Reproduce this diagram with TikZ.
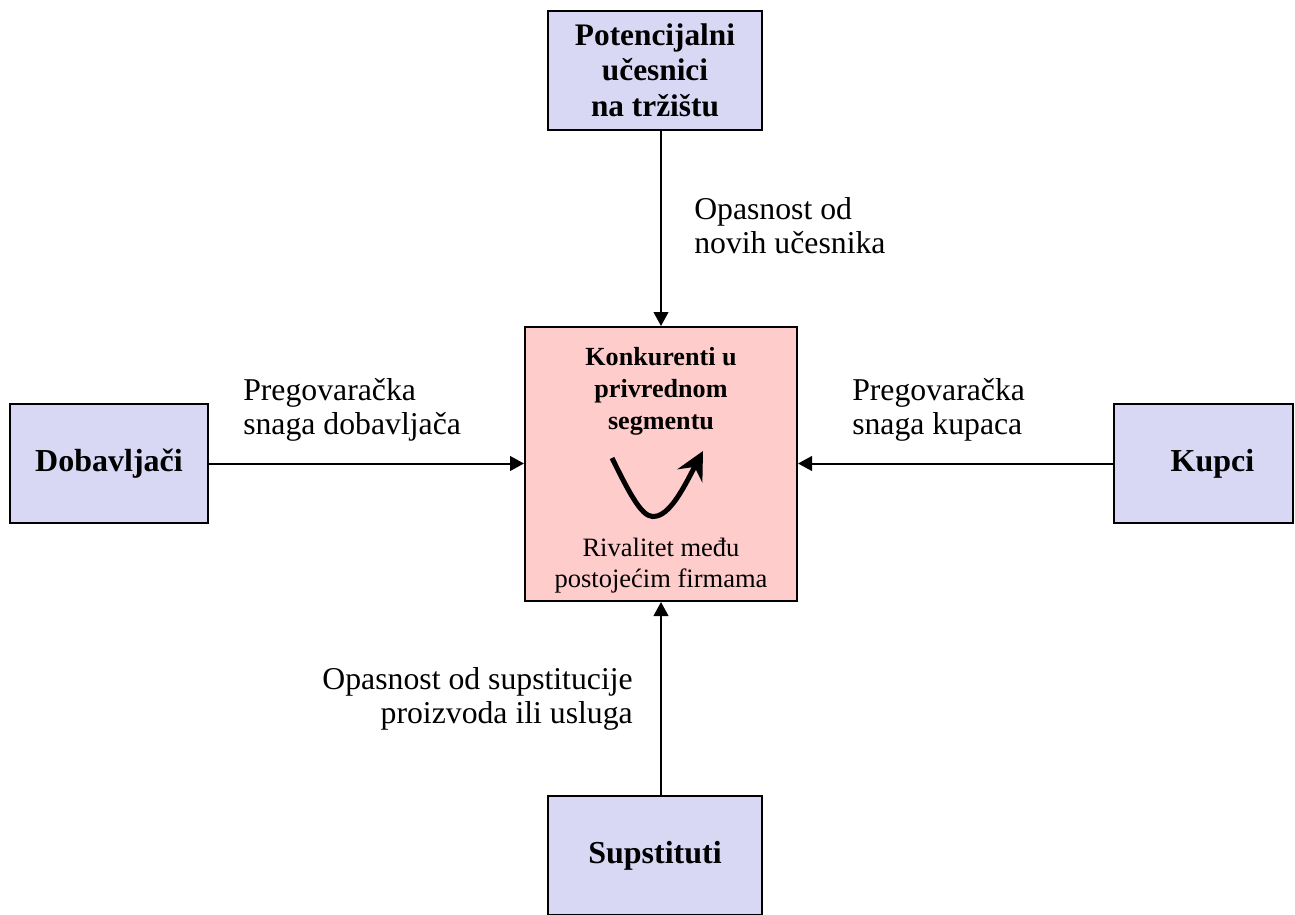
\documentclass[tikz,border=0pt]{standalone}
\usepackage{fontspec}
\setmainfont{Liberation Serif}
\usetikzlibrary{arrows.meta}

\definecolor{sideblue}{RGB}{216,216,244}
\definecolor{corepink}{RGB}{255,204,204}

\begin{document}
\begin{tikzpicture}[x=0.75pt,y=0.75pt,yscale=-1,xscale=1,
  forcebox/.style={draw, line width=1.5pt, fill=sideblue, minimum width=214*0.75pt, minimum height=119*0.75pt, inner sep=0pt, align=center, font=\fontsize{23.5}{26.5}\selectfont\bfseries},
  sidebox/.style={forcebox, minimum width=198*0.75pt, font=\fontsize{24}{27}\selectfont\bfseries},
  forcelbl/.style={inner sep=0pt, font=\fontsize{23.8}{25.5}\selectfont},
  pushline/.style={line width=1.5pt, -{Triangle[length=10.5pt,width=11pt]}}]
\clip (0,0) rectangle (1295,914);

%Shape: boxes
\node[forcebox] (ucesnici) at (655,70) {Potencijalni\\u\v{c}esnici\\na tr\v{z}i\v{s}tu};
\node[sidebox] (dobavljaci) at (109,463.5) {Dobavlja\v{c}i};
\node[sidebox, minimum width=179*0.75pt] (kupci) at (1203.5,463.5) {\hspace*{13.5pt}Kupci};
\node[forcebox, font=\fontsize{24}{27}\selectfont\bfseries] (supstituti) at (655,855.5) {Supstituti};
\node[draw, line width=1.5pt, fill=corepink, minimum width=272*0.75pt, minimum height=274*0.75pt, inner sep=0pt] (konkurenti) at (661,464) {};

% Text inside the middle box
\node[inner sep=0pt, align=center, font=\fontsize{19.6}{24}\selectfont\bfseries] (naslov) at (661,391) {Konkurenti u\\privrednom\\segmentu};
\node[inner sep=0pt, align=center, font=\fontsize{19.9}{23.25}\selectfont] (rivalitet) at (661,566) {Rivalitet me\dj u\\postoje\'cim firmama};

%Curved arrow
\draw[line width=3.75pt, -{Stealth[length=21pt,width=21pt,inset=7.5pt]}] (612,458) .. controls (635,505) and (645,520) .. (657,516) .. controls (672,512) and (685,485) .. (703,451);

%Straight Lines
\draw[pushline] (konkurenti.north |- ucesnici.south) -- (konkurenti.north);
\draw[pushline] (dobavljaci.east) -- (konkurenti.west |- dobavljaci.east);
\draw[pushline] (kupci.west) -- (konkurenti.east |- kupci.west);
\draw[pushline] (konkurenti.south |- supstituti.north) -- (konkurenti.south);

% Text Node
\node[forcelbl, anchor=west, align=left] (novi) at (694,226) {Opasnost od\\novih u\v{c}esnika};
% Text Node
\node[forcelbl, anchor=west, align=left] (snagadob) at (243,410) {Pregovara\v{c}ka\\snaga dobavlja\v{c}a};
% Text Node
\node[forcelbl, anchor=west, align=left] (snagakup) at (852,410) {Pregovara\v{c}ka\\snaga kupaca};
% Text Node
\node[forcelbl, anchor=east, align=right] (zamjena) at (633,699) {Opasnost od supstitucije\\proizvoda ili usluga};

\end{tikzpicture}
\end{document}
